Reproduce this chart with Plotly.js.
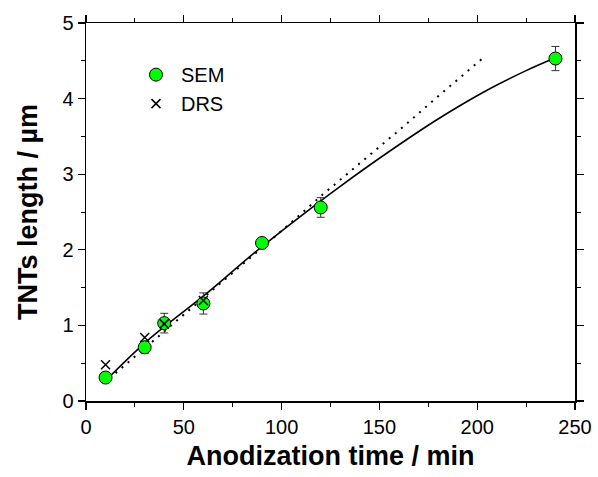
<!DOCTYPE html>
<html>
<head>
<meta charset="utf-8">
<script src="https://cdn.plot.ly/plotly-3.0.1.min.js"></script>
<style>html,body{margin:0;padding:0;background:#fff;}#chart{width:598px;height:477px;}</style>
</head>
<body>
<div id="chart"></div>
<script>
// Measured data
const semTime = [10, 30, 40, 60, 90, 120, 240];
const semLength = [0.31, 0.71, 1.03, 1.29, 2.09, 2.56, 4.53];
const semError = [0.05, 0.08, 0.13, 0.14, 0.05, 0.13, 0.16];

const drsTime = [10, 30, 40, 60];
const drsLength = [0.48, 0.84, 1.02, 1.33];

// Fitted curves
const solidFitTime = [12, 31, 62, 87, 110, 130, 155, 180, 205, 225, 240];
const solidFitLength = [0.32, 0.79, 1.43, 1.98, 2.45, 2.84, 3.30, 3.73, 4.11, 4.37, 4.54];

const dottedFitTime = [12, 40, 67, 79, 100, 121, 145, 160, 180, 204];
const dottedFitLength = [0.30, 0.92, 1.52, 1.79, 2.25, 2.73, 3.25, 3.58, 4.03, 4.56];

const FONT = 'Liberation Sans, Arial, sans-serif';

const traces = [
  {x: solidFitTime, y: solidFitLength, mode: 'lines', line: {color: '#000', width: 1.6, shape: 'spline', smoothing: 1}, showlegend: false, hoverinfo: 'skip'},
  {x: dottedFitTime, y: dottedFitLength, mode: 'lines', line: {color: '#000', width: 2, dash: '2px,6px'}, showlegend: false, hoverinfo: 'skip'},
  {x: semTime, y: semLength, name: 'SEM', mode: 'markers',
   marker: {symbol: 'circle', size: 13, color: '#00ff00', line: {color: '#000', width: 1}},
   error_y: {type: 'data', array: semError, visible: true, color: '#333', thickness: 1, width: 4}},
  {x: drsTime, y: drsLength, name: 'DRS', mode: 'markers',
   marker: {symbol: 'x-thin-open', size: 9, color: '#000', line: {color: '#000', width: 1.5}}}
];

const axisCommon = {
  showgrid: false, zeroline: false, showline: true, linecolor: '#000', linewidth: 1.5,
  mirror: 'allticks', ticks: 'outside', ticklen: 7, tickwidth: 1.2, tickcolor: '#000',
  tickfont: {family: FONT, size: 20, color: '#000'}
};

const layout = {
  width: 598, height: 477,
  margin: {l: 86, r: 23, t: 23, b: 76},
  paper_bgcolor: '#fff', plot_bgcolor: '#fff',
  xaxis: Object.assign({}, axisCommon, {
    range: [0, 250], dtick: 50, tick0: 0,
    minor: {dtick: 25, ticklen: 4, tickwidth: 1, tickcolor: '#000', ticks: 'outside'},
    title: {text: '<b>Anodization time / min</b>', font: {family: FONT, size: 27, color: '#000'}, standoff: 9}
  }),
  yaxis: Object.assign({}, axisCommon, {
    range: [0, 5], dtick: 1, tick0: 0,
    minor: {dtick: 0.5, ticklen: 4, tickwidth: 1, tickcolor: '#000', ticks: 'outside'},
    title: {text: '<b>TNTs length / µm</b>', font: {family: FONT, size: 27, color: '#000'}, standoff: 17}
  }),
  legend: {x: 0.092, y: 0.915, xanchor: 'left', yanchor: 'top', bgcolor: 'rgba(0,0,0,0)', itemwidth: 40,
    font: {family: FONT, size: 20, color: '#000'}},
  showlegend: true
};

Plotly.newPlot('chart', traces, layout, {staticPlot: true, displayModeBar: false});
</script>
</body>
</html>
